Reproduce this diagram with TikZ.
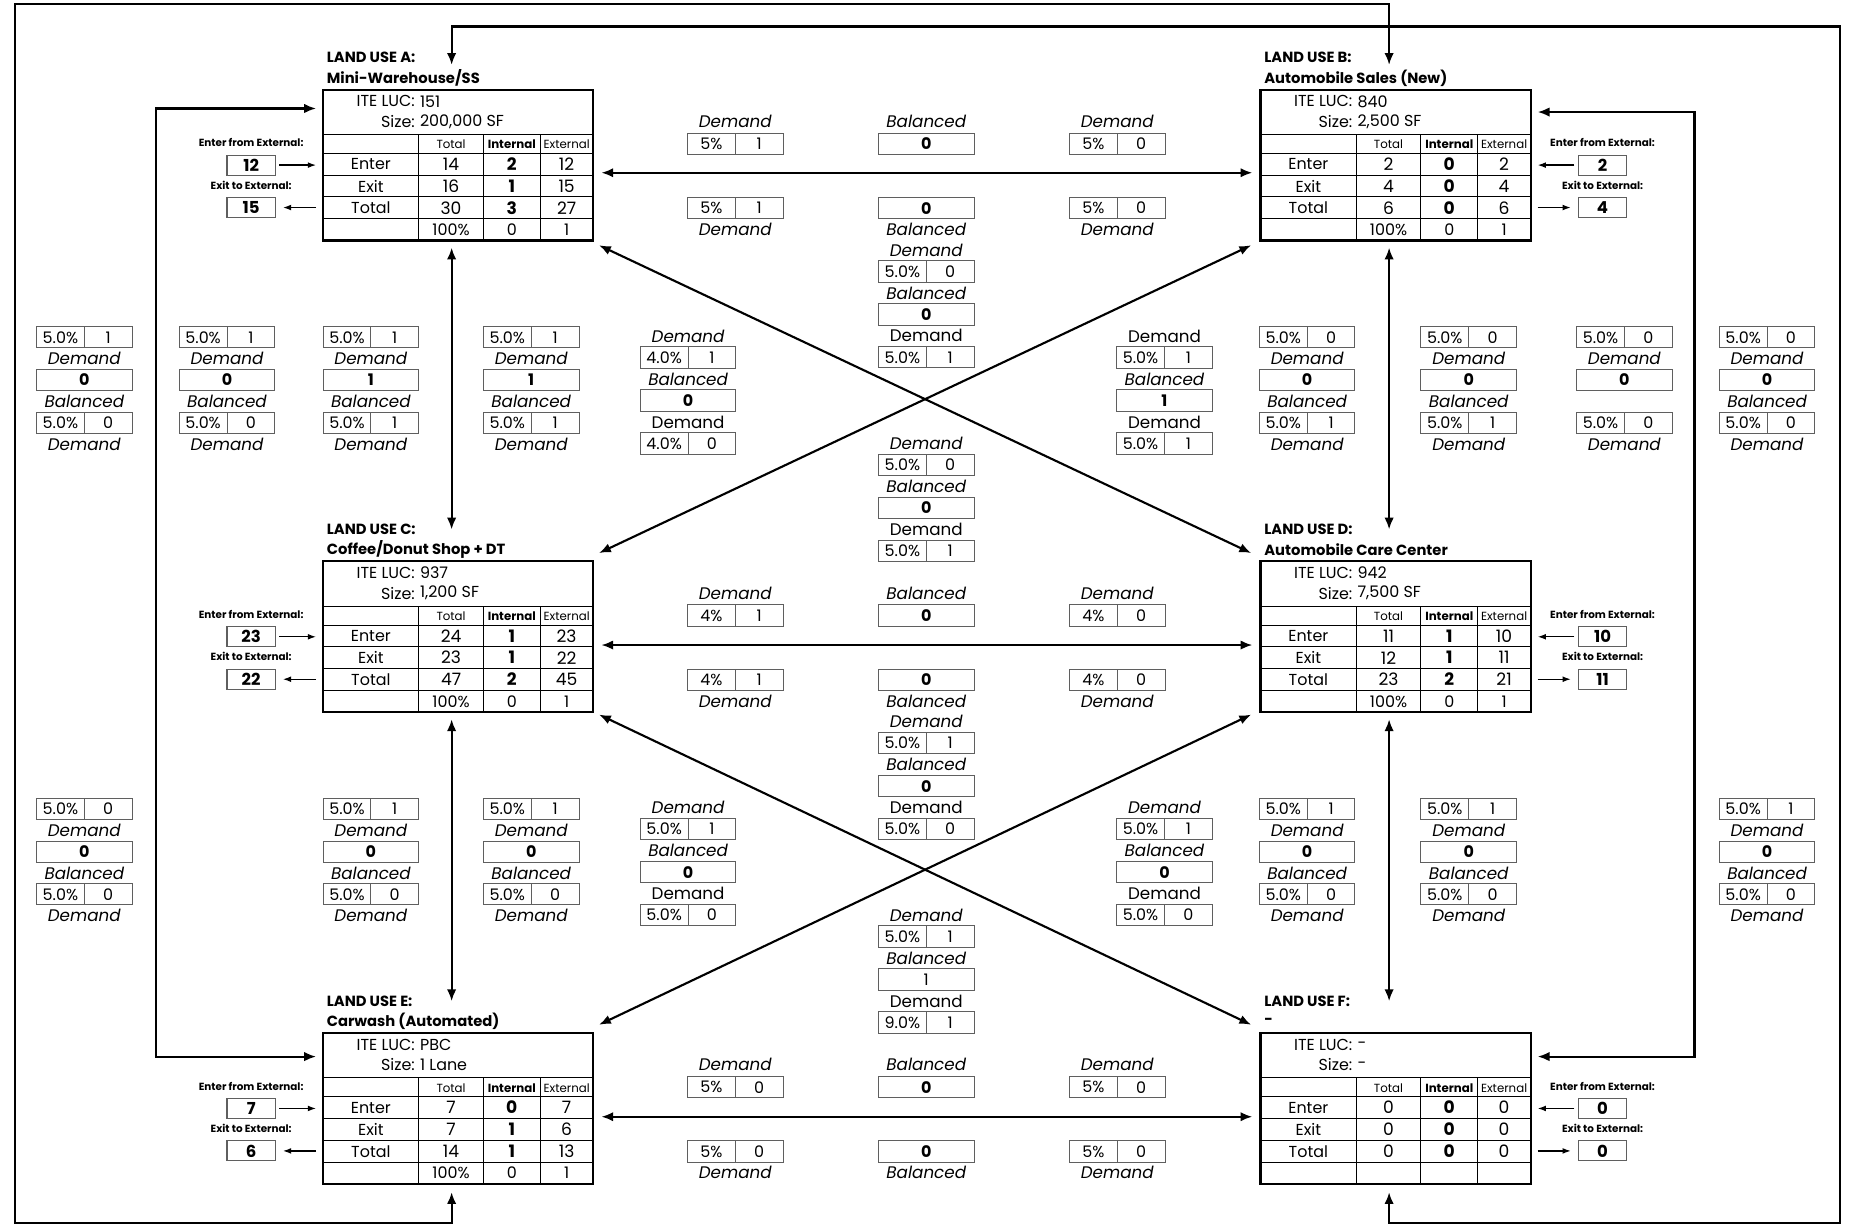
\documentclass[tikz,border=0pt]{standalone}
\usepackage{fontspec}
\setmainfont{Poppins}
\usetikzlibrary{arrows.meta,positioning,calc}
\definecolor{cellgray}{RGB}{95,95,95}
\tikzset{
  lubox/.style={draw=black,line width=1.9pt,minimum width=229pt,minimum height=128pt,inner sep=0pt,outer sep=0pt,anchor=north west},
  gridline/.style={draw=black,line width=0.8pt},
  lutitle/.style={anchor=west,inner sep=0pt,font=\fontsize{12.5}{14}\selectfont\bfseries},
  ltext/.style={inner sep=0pt,font=\fontsize{13.5}{15}\selectfont},
  htext/.style={inner sep=0pt,font=\fontsize{10}{11}\selectfont},
  exttext/.style={inner sep=0pt,font=\fontsize{8.8}{10}\selectfont\bfseries},
  extbox/.style={draw=cellgray,line width=0.9pt,minimum width=41pt,minimum height=17pt,inner sep=0pt,font=\fontsize{14}{16}\selectfont\bfseries},
  pctcell/.style={draw=cellgray,line width=0.8pt,minimum width=40.5pt,minimum height=18pt,inner sep=0pt,outer sep=0pt,anchor=west,font=\fontsize{13.5}{15}\selectfont},
  balcell/.style={draw=cellgray,line width=0.8pt,minimum width=81pt,minimum height=18pt,inner sep=0pt,outer sep=0pt,anchor=west,font=\fontsize{13.5}{15}\selectfont\bfseries},
  demit/.style={inner sep=0pt,font=\fontsize{14.2}{16}\selectfont\itshape},
  demup/.style={inner sep=0pt,font=\fontsize{14.2}{16}\selectfont},
  linkarr/.style={{Latex[length=10pt,width=8pt]}-{Latex[length=10pt,width=8pt]},line width=1.8pt},
  extarr/.style={-{Latex[length=7pt,width=5pt]},line width=1.1pt}
}
% split box: percentage | trips
\newcommand{\dmdbox}[5]{%
  \node[pctcell] (#1) at (#2,#3) {#4};
  \node[pctcell] (#1v) at (#1.east) {#5};}
\newcommand{\balbox}[4]{\node[balcell] (#1) at (#2,#3) {#4};}
\newcommand{\lbl}[5]{\node[#1] (#2) at (#3+40.5,#4) {#5};}
% land use table
\newcommand{\lutable}[7]{%
  \node[lubox] (#1) at (#2,#3) {};
  \node[lutitle] (#1-t1) at ($(#1.north west)+(3,-27)$) {LAND USE #1:};
  \node[lutitle] (#1-t2) at ($(#1.north west)+(3,-10)$) {#4};
  \begin{scope}[shift={(#1.north west)}]
    \draw[gridline] (0,38) -- (229,38) (0,54) -- (229,54) (0,72.5) -- (229,72.5)
      (0,91) -- (229,91) (0,109.5) -- (229,109.5);
    \foreach \cx in {81,136,184} \draw[gridline] (\cx,38) -- (\cx,128);
    \node[ltext,anchor=east] (#1-luck) at (78,10) {ITE LUC:};
    \node[ltext,anchor=west] (#1-lucv) at (82,10) {#5};
    \node[ltext,anchor=east] (#1-sizek) at (78,27) {Size:};
    \node[ltext,anchor=west] (#1-sizev) at (82,27) {#6};
    \node[htext] (#1-h1) at (108.5,46.5) {Total};
    \node[htext,font=\fontsize{10}{11}\selectfont\bfseries] (#1-h2) at (160,46.5) {Internal};
    \node[htext] (#1-h3) at (206.5,46.5) {External};
    \foreach \rt/\ri/\re [count=\k] in {#7}{
      \pgfmathsetmacro\ry{44.75+18.5*\k}
      \ifnum\k<4
        \node[ltext] (#1-l\k) at (40.5,\ry) {\ifcase\k\or Enter\or Exit\or Total\fi};
        \node[ltext,font=\fontsize{14.5}{16}\selectfont\bfseries] (#1-i\k) at (160,\ry) {\ri};
        \node[ltext,font=\fontsize{14.5}{16}\selectfont] (#1-c\k) at (108.5,\ry) {\rt};
        \node[ltext,font=\fontsize{14.5}{16}\selectfont] (#1-e\k) at (206.5,\ry) {\re};
      \else
        \node[ltext] (#1-i\k) at (160,\ry) {\ri};
        \node[ltext] (#1-c\k) at (108.5,\ry) {\rt};
        \node[ltext] (#1-e\k) at (206.5,\ry) {\re};
      \fi
    }
  \end{scope}}
% external enter / exit boxes, #2 = -1 left, 1 right
\newcommand{\extio}[4]{%
  \node[exttext] (#1-enl) at ($(#1.north)+(#2*175.5,45)$) {Enter from External:};
  \node[extbox] (#1-en) at ($(#1.north)+(#2*175.5,64)$) {#3};
  \node[exttext] (#1-exl) at ($(#1.north)+(#2*175.5,81)$) {Exit to External:};
  \node[extbox] (#1-ex) at ($(#1.north)+(#2*175.5,100)$) {#4};
  \ifnum#2<0
    \draw[extarr] ($(#1-en.east)+(3,0)$) -- ($(#1.west |- #1-en)+(-6,0)$);
    \draw[extarr] ($(#1.west |- #1-ex)+(-6,0)$) -- ($(#1-ex.east)+(6,0)$);
  \else
    \draw[extarr] ($(#1-en.west)+(-3,0)$) -- ($(#1.east |- #1-en)+(6,0)$);
    \draw[extarr] ($(#1.east |- #1-ex)+(6,0)$) -- ($(#1-ex.west)+(-6,0)$);
  \fi}

\begin{document}
\begin{tikzpicture}[x=1pt,y=-1pt]
  \useasboundingbox (0,0) rectangle (1568,1039);
  \fill[white] (0,0) rectangle (1568,1039);

  \lutable{A}{274}{76}{Mini-Warehouse/SS}{151}{200,000 SF}{14/2/12,16/1/15,30/3/27,100\%/0/1}
  \lutable{B}{1069}{76}{Automobile Sales (New)}{840}{2,500 SF}{2/0/2,4/0/4,6/0/6,100\%/0/1}
  \lutable{C}{274}{476}{Coffee/Donut Shop + DT}{937}{1,200 SF}{24/1/23,23/1/22,47/2/45,100\%/0/1}
  \lutable{D}{1069}{476}{Automobile Care Center}{942}{7,500 SF}{11/1/10,12/1/11,23/2/21,100\%/0/1}
  \lutable{E}{274}{876}{Carwash (Automated)}{PBC}{1 Lane}{7/0/7,7/1/6,14/1/13,100\%/0/1}
  \lutable{F}{1069}{876}{-}{-}{-}{0/0/0,0/0/0,0/0/0}

  \extio{A}{-1}{12}{15}
  \extio{B}{1}{2}{4}
  \extio{C}{-1}{23}{22}
  \extio{D}{1}{10}{11}
  \extio{E}{-1}{7}{6}
  \extio{F}{1}{0}{0}

  % pairs between neighbouring land uses
  \foreach \g/\dy/\pa/\va/\pb/\vb in {ab/0/5/1/5/0, cd/400/4/1/4/0, ef/800/5/0/5/0}{
    \lbl{demit}{\g1}{583}{103+\dy}{Demand}
    \dmdbox{\g2}{583}{122+\dy}{\pa\%}{\va}
    \lbl{demit}{\g3}{745}{103+\dy}{Balanced}
    \balbox{\g4}{745}{122+\dy}{0}
    \lbl{demit}{\g5}{907}{103+\dy}{Demand}
    \dmdbox{\g6}{907}{122+\dy}{\pb\%}{\vb}
    \dmdbox{\g7}{583}{176.5+\dy}{\pa\%}{\va}
    \lbl{demit}{\g8}{583}{194.5+\dy}{Demand}
    \balbox{\g9}{745}{176.5+\dy}{0}
    \lbl{demit}{\g10}{745}{194.5+\dy}{Balanced}
    \dmdbox{\g11}{907}{176.5+\dy}{\pb\%}{\vb}
    \lbl{demit}{\g12}{907}{194.5+\dy}{Demand}
  }

  % outer columns
  \foreach \n/\x/\y/\va/\b/\vb/\sb in {
    oa/31/286/1/0/0/1, ob/152/286/1/0/0/1, oc/274/286/1/1/1/1, od/410/286/1/1/1/1,
    oe/1068/286/0/0/1/1, of/1205/286/0/0/1/1, og/1337/286/0/0/0/0, oh/1458/286/0/0/0/1,
    pa/31/686/0/0/0/1, pc/274/686/1/0/0/1, pd/410/686/1/0/0/1,
    pe/1068/686/1/0/0/1, pf/1205/686/1/0/0/1, ph/1458/686/1/0/0/1}{
    \dmdbox{\n1}{\x}{\y}{5.0\%}{\va}
    \lbl{demit}{\n2}{\x}{\y+18.1}{Demand}
    \balbox{\n3}{\x}{\y+36.2}{\b}
    \ifnum\sb=1 \lbl{demit}{\n4}{\x}{\y+54.3}{Balanced}\fi
    \dmdbox{\n5}{\x}{\y+72.4}{5.0\%}{\vb}
    \lbl{demit}{\n6}{\x}{\y+90.5}{Demand}
  }

  % diagonal and centre stacks
  \foreach \n/\x/\y/\fl/\pa/\va/\b/\bb/\pb/\vb in {
    ma/543/285/1/4.0/1/0/1/4.0/0, mb/947/285/0/5.0/1/1/1/5.0/1,
    mc/745/212/1/5.0/0/0/1/5.0/1, md/745/376/1/5.0/0/0/1/5.0/1,
    me/543/685/1/5.0/1/0/1/5.0/0, mf/947/685/1/5.0/1/0/1/5.0/0,
    mg/745/612/1/5.0/1/0/1/5.0/0, mh/745/776/1/5.0/1/1/0/9.0/1}{
    \ifnum\fl=1 \lbl{demit}{\n1}{\x}{\y}{Demand}\else \lbl{demup}{\n1}{\x}{\y}{Demand}\fi
    \dmdbox{\n2}{\x}{\y+18.2}{\pa\%}{\va}
    \lbl{demit}{\n3}{\x}{\y+36.4}{Balanced}
    \balbox{\n4}{\x}{\y+54.6}{\ifnum\bb=0 \mdseries\fi\b}
    \lbl{demup}{\n5}{\x}{\y+72.8}{Demand}
    \dmdbox{\n6}{\x}{\y+91}{\pb\%}{\vb}
  }

  % connectors
  \coordinate (frameNW) at (13,3.5);
  \coordinate (frameSW) at (13,1037);
  \coordinate (frameNE) at (1560,22.5);
  \coordinate (frameSE) at (1560,1037);
  \coordinate (leftbar) at (132,500);
  \coordinate (rightbar) at (1437,500);

  \draw[linkarr] ($(A.north east)+(7,70.5)$) -- ($(B.north west)+(-7,70.5)$);
  \draw[linkarr] ($(C.north east)+(7,71)$) -- ($(D.north west)+(-7,71)$);
  \draw[linkarr] ($(E.north east)+(7,71)$) -- ($(F.north west)+(-7,71)$);
  \draw[linkarr] ($(A.south west)+(109,6)$) -- ($(C.north west)+(109,-27)$);
  \draw[linkarr] ($(B.south west)+(109,6)$) -- ($(D.north west)+(109,-27)$);
  \draw[linkarr] ($(C.south west)+(109,6)$) -- ($(E.north west)+(109,-27)$);
  \draw[linkarr] ($(D.south west)+(109,6)$) -- ($(F.north west)+(109,-27)$);
  \draw[linkarr] ($(A.south east)+(5,4)$) -- ($(D.north west)+(-8,-7)$);
  \draw[linkarr] ($(B.south west)+(-8,4)$) -- ($(C.north east)+(5,-7)$);
  \draw[linkarr] ($(C.south east)+(5,2)$) -- ($(F.north west)+(-8,-7)$);
  \draw[linkarr] ($(D.south west)+(-8,2)$) -- ($(E.north east)+(5,-7)$);
  \draw[linkarr] ($(E.south west)+(109,7)$) |- (frameSW) -- (frameNW) -| ($(B.north west)+(109,-21)$);
  \draw[linkarr] ($(A.north west)+(109,-21)$) |- (frameNE) -- (frameSE) -| ($(F.south west)+(109,7)$);
  \draw[linkarr] ($(A.north west)+(-6,16)$) -| (leftbar) |- ($(E.north west)+(-6,20)$);
  \draw[linkarr] ($(B.north east)+(6,19)$) -| (rightbar) |- ($(F.north east)+(6,20)$);
\end{tikzpicture}
\end{document}
